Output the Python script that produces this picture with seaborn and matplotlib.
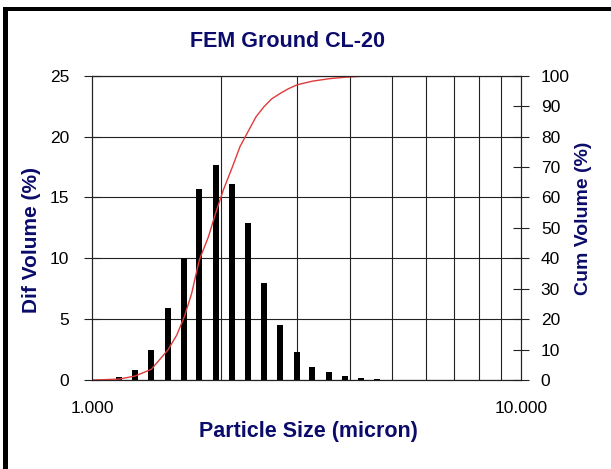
import numpy as np
import pandas as pd
import matplotlib
matplotlib.use("Agg")
import matplotlib.pyplot as plt
from matplotlib.patches import Rectangle
from matplotlib.ticker import FixedLocator, FixedFormatter, NullFormatter
import seaborn as sns

# ---- data ----
sizes = [1.156, 1.258, 1.373, 1.502, 1.640, 1.777, 1.945, 2.123, 2.309, 2.516,
         2.747, 3.005, 3.263, 3.568, 3.890, 4.232, 4.612]
dif_volume = [0.27, 0.82, 2.46, 5.89, 10.0, 15.67, 17.64, 16.13, 12.87, 7.94,
              4.52, 2.33, 1.10, 0.65, 0.33, 0.19, 0.08]
cum_sizes = [1.000, 1.060, 1.156, 1.258, 1.373, 1.502, 1.575, 1.640, 1.706, 1.777,
             1.866, 1.945, 2.022, 2.123, 2.212, 2.309, 2.411, 2.516, 2.623, 2.747,
             2.868, 3.005, 3.263, 3.568, 3.890, 4.232, 4.612, 5.0]
cum_volume = [0.0, 0.1, 0.3, 1.3, 3.5, 9.9, 14.8, 20.8, 28.5, 39.4,
              47.0, 55.3, 62.4, 70.0, 76.7, 81.6, 86.5, 89.8, 92.4, 94.2,
              95.7, 97.0, 98.2, 99.0, 99.5, 99.8, 100.0, 100.0]
left_ticks = [0, 5, 10, 15, 20, 25]
right_ticks = [0, 10, 20, 30, 40, 50, 60, 70, 80, 90, 100]
x_ticks = [1, 10]
x_ticklabels = ["1.000", "10.000"]
x_grid = [2, 3, 4, 5, 6, 7, 8, 9]
title = "FEM Ground CL-20"
xlabel = "Particle Size (micron)"
ylabel_left = "Dif Volume (%)"
ylabel_right = "Cum Volume (%)"

NAVY = "#0b0b6b"
GRID = "#222222"
W, H = 611, 469

sns.set_theme(style="white")
plt.rcParams["font.family"] = ["Liberation Sans", "DejaVu Sans"]

fig = plt.figure(figsize=(W / 100, H / 100), dpi=100)
fig.patch.set_facecolor("white")
ax = fig.add_axes([92.3 / W, 1 - 380 / H, (520.7 - 92.3) / W, (380 - 75.7) / H])
ax.set_xscale("log")
ax.set_xlim(1, 10)
ax.set_ylim(0, 25)

bars_df = pd.DataFrame({"size": sizes, "dif": dif_volume})
sns.barplot(data=bars_df, x="size", y="dif", native_scale=True, ax=ax,
            color="black", saturation=1, width=0.4, edgecolor="black",
            linewidth=0, zorder=3)
ax.set_xlabel("")
ax.set_ylabel("")

ax2 = ax.twinx()
cum_df = pd.DataFrame({"size": cum_sizes, "cum": cum_volume})
sns.lineplot(data=cum_df, x="size", y="cum", ax=ax2, color="#e03a3a", lw=1.0)
ax2.set_ylim(0, 100)
ax2.set_yticks(right_ticks)
ax2.set_xlabel("")
ax2.set_ylabel("")
ax2.grid(False)
ax2.tick_params(axis="y", direction="inout", length=11, width=0.8, color=GRID,
                pad=9, labelsize=12.5, labelcolor="black", right=True)
for s in ax2.spines.values():
    s.set_color(GRID)
    s.set_linewidth(0.8)

# x axis (shared) configured after twin
ax.set_xscale("log")
ax.set_xlim(1, 10)
ax.set_ylim(0, 25)
ax.xaxis.set_major_locator(FixedLocator(x_ticks))
ax.xaxis.set_major_formatter(FixedFormatter(x_ticklabels))
ax.xaxis.set_minor_locator(FixedLocator(x_grid))
ax.xaxis.set_minor_formatter(NullFormatter())
ax.set_yticks(left_ticks)
ax.grid(True, which="minor", axis="x", color=GRID, lw=0.8)
ax.grid(True, which="major", axis="y", color=GRID, lw=0.8)
ax.grid(False, which="major", axis="x")
ax.set_axisbelow(True)
ax.tick_params(axis="x", which="minor", length=0)
ax.tick_params(axis="x", which="major", direction="inout", length=10, width=0.8,
               color=GRID, pad=10, labelsize=12.5, labelcolor="black")
ax.tick_params(axis="y", direction="inout", length=11, width=0.8, color=GRID,
               pad=11, labelsize=12.5, labelcolor="black", left=True)
for s in ax.spines.values():
    s.set_color(GRID)
    s.set_linewidth(0.8)
ax2.tick_params(axis="x", which="both", labelbottom=False, bottom=False, top=False)

# texts
fig.text(287 / W, 1 - 47 / H, title, ha="center", va="baseline",
         fontsize=15.5, fontweight="bold", color=NAVY)
fig.text(308 / W, 1 - 437 / H, xlabel, ha="center", va="baseline",
         fontsize=15.5, fontweight="bold", color=NAVY)
fig.text(32 / W, 1 - 240 / H, ylabel_left, ha="center", va="center", rotation=90,
         fontsize=15, fontweight="bold", color=NAVY)
fig.text(583 / W, 1 - 218 / H, ylabel_right, ha="center", va="center", rotation=90,
         fontsize=14, fontweight="bold", color=NAVY)

# frame (top and left edges)
fig.patches.append(Rectangle((3 / W, 0), 5 / W, 1 - 7 / H, transform=fig.transFigure,
                             facecolor="black", edgecolor="none", figure=fig))
fig.patches.append(Rectangle((3 / W, 1 - 11.5 / H), 1 - 3 / W, 4.5 / H,
                             transform=fig.transFigure, facecolor="black",
                             edgecolor="none", figure=fig))

fig.savefig("out.png", dpi=100)
